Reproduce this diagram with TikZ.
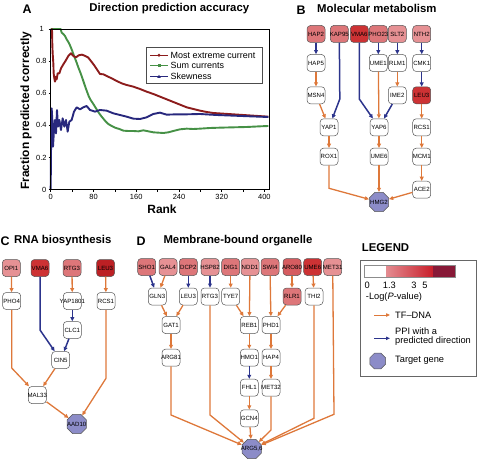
\documentclass[tikz,border=0pt]{standalone}
\usepackage{fontspec}
\setmainfont{Liberation Sans}
\usetikzlibrary{shapes.geometric,arrows.meta}

\definecolor{tfo}{RGB}{222,120,58}
\definecolor{ppi}{RGB}{44,52,140}
\definecolor{tgt}{RGB}{140,140,200}
\definecolor{ra}{RGB}{230,145,148}
\definecolor{rb}{RGB}{221,118,121}
\definecolor{rc}{RGB}{214,92,96}
\definecolor{rd}{RGB}{205,50,52}
\definecolor{re}{RGB}{188,32,36}
\definecolor{bx}{RGB}{85,85,85}
\definecolor{mred}{RGB}{140,28,28}
\definecolor{mgreen}{RGB}{70,145,70}
\definecolor{mblue}{RGB}{40,40,125}
\definecolor{gradA}{RGB}{228,140,145}
\definecolor{gradB}{RGB}{200,30,42}
\definecolor{maroon}{RGB}{135,25,55}

\tikzset{
  gene/.style={draw=bx, rounded corners=3.5bp, minimum width=18bp, minimum height=17bp,
    inner sep=0pt, line width=0.5bp, font=\fontsize{6.1}{7}\selectfont},
  target/.style={regular polygon, regular polygon sides=8, draw=bx, fill=tgt,
    minimum size=21bp, inner sep=0pt, line width=0.5bp, font=\fontsize{6.1}{7}\selectfont},
  tf/.style={draw=tfo, line width=1.3bp, -{Triangle[length=4.2bp,width=3.8bp]}},
  pp/.style={draw=ppi, line width=1.5bp, -{Triangle[length=4.2bp,width=3.8bp]}},
  ttl/.style={inner sep=0pt, font=\fontsize{11.4}{13}\selectfont\bfseries},
  letter/.style={inner sep=0pt, font=\fontsize{12.5}{14}\selectfont\bfseries},
  ticklab/.style={inner sep=0pt, font=\fontsize{7.5}{9}\selectfont},
  leglab/.style={inner sep=0pt, anchor=west, font=\fontsize{9}{10}\selectfont},
  keylab/.style={inner sep=0pt, anchor=west, font=\fontsize{9.3}{10.5}\selectfont},
  curve/.style={line width=1.9bp, line join=round},
}
\newcommand\gn[5]{\node[gene,fill=#4] (#1) at (#2,#3) {\makebox[0pt]{#5}};}

\begin{document}
\begin{tikzpicture}[x=1bp,y=-1bp]
\useasboundingbox (0,0) rectangle (480,461);

% ---------------- Panel A ----------------
\node[letter] (la) at (27,9.5) {A};
\node[ttl] (ta) at (169.3,8.5) {Direction prediction accuracy};
\node[inner sep=0pt, rotate=90, font=\fontsize{12}{14}\selectfont\bfseries] (ylab) at (26,110.7) {Fraction predicted correctly};
\node[inner sep=0pt, font=\fontsize{12}{14}\selectfont\bfseries] (xlab) at (162,209.5) {Rank};

\begin{scope}[shift={(0,20)}, x=0.333333bp, y=-0.333333bp]
  \draw[mgreen, curve] plot coordinates {(152,27) (182,27) (185,38) (190,42) (195,48) (200,58) (205,66) (210,76) (215,88) (220,102) (225,115) (230,128) (236,145) (242,160) (248,177) (254,195) (260,212) (266,228) (272,240) (280,252) (288,265) (296,278) (305,290) (315,302) (325,312) (335,318) (345,323) (358,327) (370,332) (385,333) (400,333) (415,334) (430,331) (445,334) (460,337) (475,338) (490,339) (505,337) (520,333) (540,328) (560,326) (580,327) (600,326) (630,324) (660,323) (700,322) (740,321) (780,319) (805,318)};
  \draw[mred, curve] plot coordinates {(154,27) (156,27) (157,75) (158,100) (160,130) (161,160) (163,175) (165,185) (167,170) (170,178) (173,160) (178,160) (183,145) (190,133) (197,122) (205,108) (213,100) (220,108) (228,112) (236,106) (246,104) (256,108) (264,112) (272,122) (282,135) (292,150) (300,162) (310,163) (320,168) (335,175) (350,183) (365,190) (380,195) (400,200) (420,207) (440,215) (460,222) (480,230) (500,238) (520,246) (540,254) (560,262) (580,267) (600,272) (620,276) (640,279) (670,281) (700,283) (730,285) (760,287) (790,289) (805,290)};
  \draw[mblue, curve] plot coordinates {(152,509) (153,400) (155,265) (157,300) (159,380) (162,330) (165,300) (168,340) (171,270) (174,320) (178,300) (183,330) (188,295) (193,320) (198,300) (203,335) (208,305) (215,300) (222,275) (230,262) (240,268) (250,262) (260,258) (270,270) (285,275) (300,270) (320,272) (340,280) (360,285) (380,290) (400,296) (420,297) (440,292) (460,282) (480,278) (500,284) (530,283) (560,283) (600,282) (650,285) (700,287) (750,289) (805,291)};
\end{scope}

% frame and ticks
\draw[line width=0.7bp] (50.7,29) rectangle (269,189.7);
\foreach \k in {0,...,5} { \draw[line width=0.5bp] (48.7,29+\k*32.14) -- (50.7,29+\k*32.14); }
\foreach \k in {0,...,10} { \draw[line width=0.5bp] (50.7+\k*21.37,189.7) -- (50.7+\k*21.37,191.7); }
\node[ticklab] (y1) at (41.7,29) {1};
\node[ticklab, anchor=east] (y08) at (46.7,61.1) {0.8};
\node[ticklab, anchor=east] (y06) at (46.7,93.3) {0.6};
\node[ticklab, anchor=east] (y04) at (46.7,125.4) {0.4};
\node[ticklab, anchor=east] (y02) at (46.7,157.6) {0.2};
\node[ticklab] (y0) at (44.3,189.7) {0};
\node[ticklab] (x0) at (50.7,197) {0};
\node[ticklab] (x80) at (93.5,197) {80};
\node[ticklab] (x160) at (136.2,197) {160};
\node[ticklab] (x240) at (179,197) {240};
\node[ticklab] (x320) at (221.7,197) {320};
\node[ticklab] (x400) at (264.4,197) {400};

% plot legend
\draw[fill=white, draw=black!70, line width=0.6bp] (146.7,47.3) rectangle (262.3,83.3);
\draw[mred, line width=1.2bp] (150,55.3) -- (168,55.3);
\fill[mred] (159,55.3) circle (1.7bp);
\draw[mgreen, line width=1.2bp] (150,65.7) -- (168,65.7);
\fill[mgreen] (157.5,64.2) rectangle (160.5,67.2);
\draw[mblue, line width=1.2bp] (150,76.7) -- (168,76.7);
\fill[mblue] (159,74.8) -- (160.8,78) -- (157.2,78) -- cycle;
\node[leglab] (lg1) at (170.5,55.3) {Most extreme current};
\node[leglab] (lg2) at (170.5,65.7) {Sum currents};
\node[leglab] (lg3) at (170.5,76.7) {Skewness};

% ---------------- Panel B ----------------
\node[letter] (lb) at (301,10) {B};
\node[ttl, anchor=west] (tb) at (317,8) {Molecular metabolism};

\gn{bhap2}{316}{34}{rb}{HAP2}
\gn{bkap95}{339.3}{34}{rb}{KAP95}
\gn{bvma6}{359.3}{34}{rd}{VMA6}
\gn{bpho23}{378.3}{34}{rb}{PHO23}
\gn{bslt2}{397.3}{34}{ra}{SLT2}
\gn{bnth2}{421.7}{34}{ra}{NTH2}
\gn{bhap5}{316}{63}{white}{HAP5}
\gn{bume1}{378.3}{63}{white}{UME1}
\gn{brlm1}{397.3}{63}{white}{RLM1}
\gn{bcmk1}{421.7}{63}{white}{CMK1}
\gn{bmsn4}{316}{95.3}{white}{MSN4}
\gn{bime2}{397.3}{95.3}{white}{IME2}
\gn{bleu3}{421.7}{95.3}{rd}{LEU3}
\gn{byap1}{329}{127.3}{white}{YAP1}
\gn{byap6}{379}{127.3}{white}{YAP6}
\gn{brcs1}{421.7}{127.3}{white}{RCS1}
\gn{brox1}{329}{156.7}{white}{ROX1}
\gn{bume6}{379}{156.7}{white}{UME6}
\gn{bmcm1}{421.7}{156.7}{white}{MCM1}
\gn{bace2}{421.7}{189.7}{white}{ACE2}
\node[target] (bhmg2) at (379,202) {\makebox[0pt]{HMG2}};

\coordinate (bkb) at (339.8,99);
\coordinate (bvb) at (359.3,99);
\coordinate (brb) at (329,188.3);
\draw[pp] (bhap2) -- (bhap5);
\draw[tf] (bhap5) -- (bmsn4);
\draw[tf] (bmsn4) -- (byap1);
\draw[pp] (bkap95) -- (bkb) -- (byap1);
\draw[pp] (bvma6) -- (bvb) -- (byap6);
\draw[pp] (bpho23) -- (bume1);
\draw[tf] (bume1) -- (byap6);
\draw[pp] (bslt2) -- (brlm1);
\draw[tf] (brlm1) -- (bime2);
\draw[pp] (bime2) -- (byap6);
\draw[pp] (bnth2) -- (bcmk1);
\draw[pp] (bcmk1) -- (bleu3);
\draw[tf] (bleu3) -- (brcs1);
\draw[tf] (brcs1) -- (bmcm1);
\draw[tf] (bmcm1) -- (bace2);
\draw[tf] (bace2) -- (bhmg2);
\draw[tf] (byap1) -- (brox1);
\draw[tf] (brox1) -- (brb) -- (bhmg2);
\draw[tf] (byap6) -- (bume6);
\draw[tf] (bume6) -- (bhmg2);

% ---------------- Panel C ----------------
\node[letter] (lc) at (5,241) {C};
\node[ttl, anchor=west] (tc) at (14,240.5) {RNA biosynthesis};

\gn{copi1}{11.3}{268}{ra}{OPI1}
\gn{cvma6}{40}{268}{rd}{VMA6}
\gn{crtg3}{72}{268}{rb}{RTG3}
\gn{cleu3}{105.5}{268}{re}{LEU3}
\gn{cpho4}{11.7}{301}{white}{PHO4}
\gn{cyap1801}{72.3}{301}{white}{YAP1801}
\gn{crcs1}{106}{301}{white}{RCS1}
\gn{cclc1}{72.3}{330}{white}{CLC1}
\gn{ccin5}{60.7}{360}{white}{CIN5}
\gn{cmal33}{37.3}{395}{white}{MAL33}
\node[target] (caad10) at (76.7,424) {\makebox[0pt]{AAD10}};

\coordinate (cpb) at (11.7,368);
\coordinate (cvb) at (40,330);
\coordinate (crb) at (106,378.3);
\draw[tf] (copi1) -- (cpho4);
\draw[tf] (cpho4) -- (cpb) -- (cmal33);
\draw[pp] (cvma6) -- (cvb) -- (ccin5);
\draw[tf] (crtg3) -- (cyap1801);
\draw[pp] (cyap1801) -- (cclc1);
\draw[pp] (cclc1) -- (ccin5);
\draw[tf] (ccin5) -- (cmal33);
\draw[tf] (cmal33) -- (caad10);
\draw[tf] (cleu3) -- (crcs1);
\draw[tf] (crcs1) -- (crb) -- (caad10);

% ---------------- Panel D ----------------
\node[letter] (ld) at (141,241) {D};
\node[ttl, anchor=west] (td) at (163.3,240.5) {Membrane-bound organelle};

\gn{dsho1}{146.7}{267}{rb}{SHO1}
\gn{dgal4}{168}{267}{ra}{GAL4}
\gn{ddcp2}{188.3}{267}{rb}{DCP2}
\gn{dhsp82}{210}{267}{ra}{HSP82}
\gn{ddig1}{230.7}{267}{rb}{DIG1}
\gn{dndd1}{250}{267}{ra}{NDD1}
\gn{dswi4}{270}{267}{rb}{SWI4}
\gn{daro80}{292}{267}{rc}{ARO80}
\gn{dume6}{312.7}{267}{rd}{UME6}
\gn{dmet31}{332.7}{267}{ra}{MET31}
\gn{dgln3}{157.3}{296.5}{white}{GLN3}
\gn{dleu3}{188.3}{296.5}{white}{LEU3}
\gn{drtg3}{210}{296.5}{white}{RTG3}
\gn{dtye7}{230.7}{296.5}{white}{TYE7}
\gn{drlr1}{292}{296.5}{rb}{RLR1}
\gn{dthi2}{314}{296.5}{white}{THI2}
\gn{dgat1}{171}{325}{white}{GAT1}
\gn{dreb1}{249.3}{325}{white}{REB1}
\gn{dphd1}{271}{325}{white}{PHD1}
\gn{darg81}{171}{357.7}{white}{ARG81}
\gn{dhmo1}{249.3}{357.7}{white}{HMO1}
\gn{dhap4}{271}{357.7}{white}{HAP4}
\gn{dfhl1}{249.3}{387.7}{white}{FHL1}
\gn{dmet32}{271}{387.7}{white}{MET32}
\gn{dgcn4}{249.3}{418.3}{white}{GCN4}
\node[target] (darg56) at (251.7,449) {\makebox[0pt]{ARG5,6}};

\coordinate (da81) at (171,415);
\coordinate (drt) at (210,415);
\coordinate (dmb) at (271,430);
\coordinate (dtb) at (314,418.3);
\coordinate (dm31) at (334,414.3);
\draw[pp] (dsho1) -- (dgln3);
\draw[tf] (dgal4) -- (dgln3);
\draw[pp] (ddcp2) -- (dleu3);
\draw[pp] (dhsp82) -- (drtg3);
\draw[tf] (ddig1) -- (dtye7);
\draw[tf] (dgln3) -- (dgat1);
\draw[tf] (dleu3) -- (dgat1);
\draw[tf] (dgat1) -- (darg81);
\draw[tf] (darg81) -- (da81) -- (darg56);
\draw[tf] (drtg3) -- (drt) -- (darg56);
\draw[tf] (dtye7) -- (dreb1);
\draw[tf] (dndd1) -- (dreb1);
\draw[tf] (dswi4) -- (dphd1);
\draw[tf] (daro80) -- (drlr1);
\draw[tf] (drlr1) -- (dphd1);
\draw[tf] (dume6) -- (dthi2);
\draw[tf] (dreb1) -- (dhmo1);
\draw[pp] (dhmo1) -- (dfhl1);
\draw[tf] (dfhl1) -- (dgcn4);
\draw[tf] (dgcn4) -- (darg56);
\draw[tf] (dphd1) -- (dhap4);
\draw[tf] (dhap4) -- (dmet32);
\draw[tf] (dmet32) -- (dmb) -- (darg56);
\draw[tf] (dthi2) -- (dtb) -- (darg56);
\draw[tf] (dmet31) -- (dm31) -- (darg56);

% ---------------- Legend ----------------
\node[ttl] (tl) at (385.5,248) {LEGEND};
\draw[draw=black!60, line width=0.6bp] (360.6,260) rectangle (476.7,376.7);
\fill[white] (364.3,265) rectangle (386,276.7);
\shade[left color=gradA, right color=gradB] (386,265) rectangle (433.3,276.7);
\fill[maroon] (433.3,265) rectangle (455,276.7);
\draw[draw=black!45, line width=0.4bp] (364.3,265) rectangle (455,276.7);
\node[keylab, anchor=center] (k0) at (367.3,285.3) {0};
\node[keylab, anchor=center] (k13) at (389.3,285.3) {1.3};
\node[keylab, anchor=center] (k3) at (414,285.3) {3};
\node[keylab, anchor=center] (k5) at (425,285.3) {5};
\node[keylab, anchor=center] (klog) at (394,296.7) {-Log(\textit{P}-value)};
\coordinate (l1a) at (374.3,315);
\coordinate (l1b) at (390,315);
\draw[draw=tfo, line width=1bp, -{Triangle[length=3.8bp,width=3.2bp]}] (l1a) -- (l1b);
\node[keylab] (ktf) at (395,315) {TF–DNA};
\coordinate (l2a) at (374.3,338.3);
\coordinate (l2b) at (390,338.3);
\draw[draw=ppi, line width=1bp, -{Triangle[length=3.8bp,width=3.2bp]}] (l2a) -- (l2b);
\node[keylab] (kppi1) at (395,330.7) {PPI with a};
\node[keylab] (kppi2) at (395,341.5) {predicted direction};
\node[target, minimum size=17bp] (ktg) at (377.7,361) {};
\node[keylab] (ktgt) at (395,360.5) {Target gene};
\end{tikzpicture}
\end{document}
